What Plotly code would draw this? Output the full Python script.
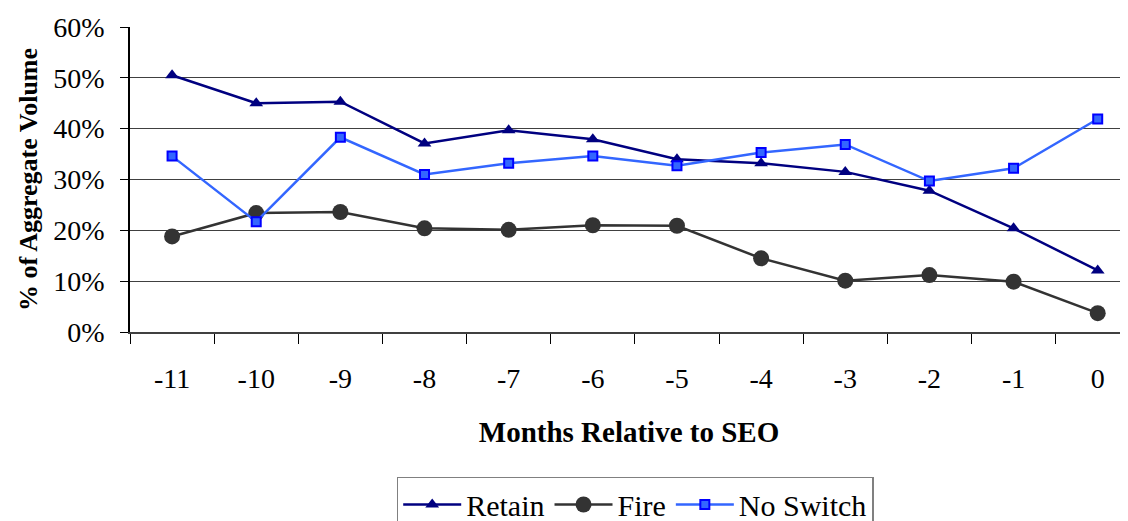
import plotly.graph_objects as go

months = ["-11", "-10", "-9", "-8", "-7", "-6", "-5", "-4", "-3", "-2", "-1", "0"]
retain = [50.5, 45.0, 45.3, 37.1, 39.7, 37.9, 34.0, 33.2, 31.5, 27.8, 20.4, 12.1]
fire = [18.8, 23.4, 23.6, 20.4, 20.1, 21.0, 20.9, 14.5, 10.1, 11.2, 9.9, 3.7]
no_switch = [34.6, 21.7, 38.3, 31.0, 33.2, 34.6, 32.7, 35.3, 36.9, 29.7, 32.2, 41.9]
y_ticks = [0, 10, 20, 30, 40, 50, 60]
y_labels = ["0%", "10%", "20%", "30%", "40%", "50%", "60%"]

font = "Liberation Serif"

fig = go.Figure()
fig.add_trace(go.Scatter(
    x=months, y=retain, name="Retain", mode="lines+markers",
    line=dict(color="#000080", width=2.5),
    marker=dict(symbol="triangle-up", size=12, color="#000080"),
))
fig.add_trace(go.Scatter(
    x=months, y=fire, name="Fire", mode="lines+markers",
    line=dict(color="#333333", width=2.5),
    marker=dict(symbol="circle", size=16, color="#333333"),
))
fig.add_trace(go.Scatter(
    x=months, y=no_switch, name="No Switch", mode="lines+markers",
    line=dict(color="#3366FF", width=2.5),
    marker=dict(symbol="square", size=9, color="#3366FF",
                line=dict(color="#0000FF", width=2)),
))

# page body has an 8px margin, so the figure is 8px smaller and shifted
fig.update_layout(
    width=1120, height=513,
    margin=dict(l=122, r=0, t=19, b=189, autoexpand=False),
    paper_bgcolor="white", plot_bgcolor="white",
    font=dict(family=font, size=28, color="black"),
    showlegend=True,
    legend=dict(
        orientation="h", xref="container", yref="container",
        x=0.560, xanchor="center", y=0.0858, yanchor="top",
        bordercolor="#808080", borderwidth=1.5,
        font=dict(family=font, size=30, color="black"),
        itemwidth=58, tracegroupgap=0,
    ),
    xaxis=dict(
        type="category",
        range=[-0.5, 11.36],
        ticks="outside", ticklen=10, tickcolor="black", tickwidth=1,
        tickson="boundaries",
        showgrid=False, zeroline=False,
        showline=True, linecolor="#404040", linewidth=1.5,
        ticklabelstandoff=21,
        automargin=False,
        tickfont=dict(family=font, size=28),
        title=dict(text="<b>Months Relative to SEO</b>",
                   font=dict(family=font, size=29), standoff=28),
    ),
    yaxis=dict(
        range=[0, 60],
        tickmode="array", tickvals=y_ticks, ticktext=y_labels,
        ticks="outside", ticklen=8, tickcolor="black", tickwidth=1,
        showgrid=True, gridcolor="#404040", gridwidth=1,
        zeroline=False,
        showline=True, linecolor="black", linewidth=1.5,
        ticklabelstandoff=10,
        automargin=False,
        tickfont=dict(family=font, size=28),
        title=dict(text="<b>% of Aggregate Volume</b>",
                   font=dict(family=font, size=26), standoff=8),
    ),
)

fig.write_html("out.html")
